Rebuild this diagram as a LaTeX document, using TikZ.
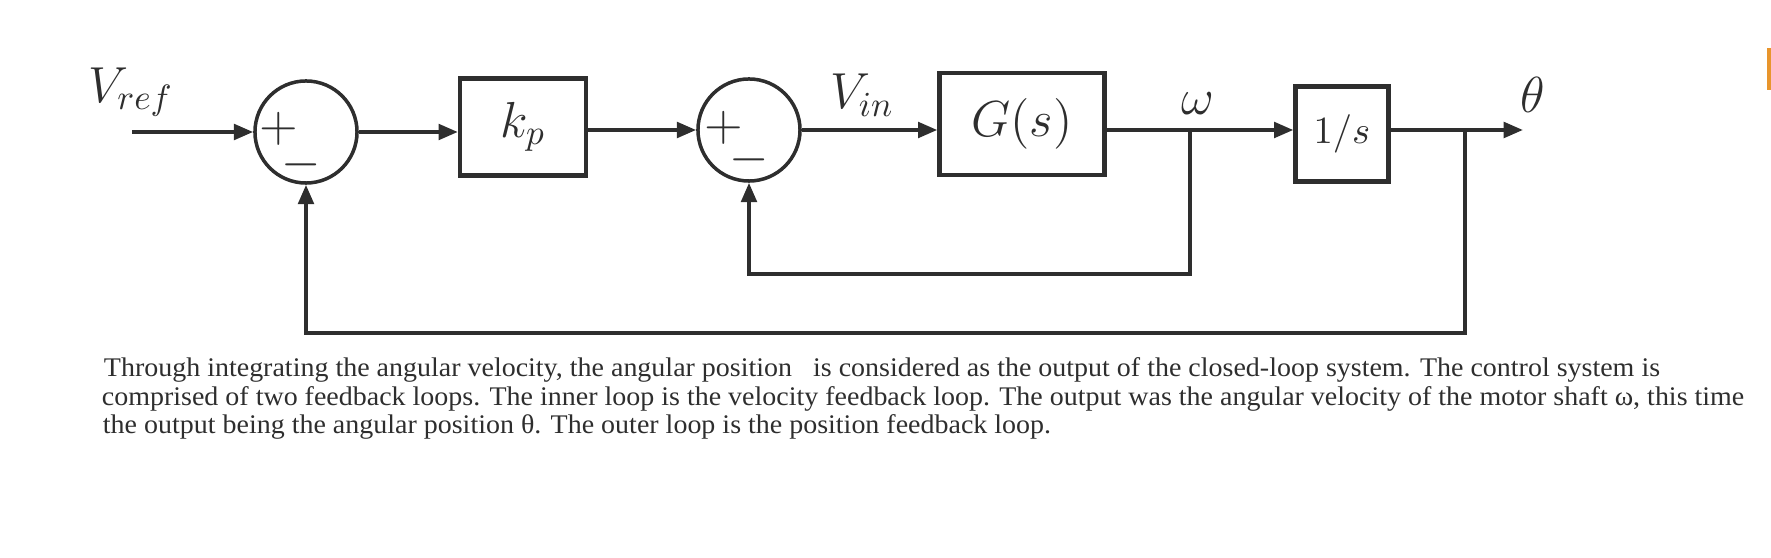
\documentclass[tikz,border=0pt]{standalone}
\usepackage{fontspec}
\newfontfamily\captfont[FakeStretch=1.04]{Liberation Serif}
\usepackage{tikz}
\usetikzlibrary{arrows.meta,calc}
\definecolor{ink}{HTML}{2E2E2E}
\definecolor{tabedge}{HTML}{E8952C}

\begin{document}
\begin{tikzpicture}[
  x=0.01cm, y=-0.01cm,
  line width=1.1pt, color=ink,
  arrow/.style={-{Triangle[length=5.5pt,width=4.4pt]}},
  block/.style={draw, line width=1.2pt, inner sep=0pt},
  sumnode/.style={circle, draw, line width=1pt, minimum size=1.02cm, inner sep=0pt},
  sgn/.style={font=\fontsize{15}{15}\selectfont, inner sep=0pt},
  sig/.style={font=\fontsize{14}{16}\selectfont, inner sep=0pt},
  caption/.style={font=\captfont\fontsize{7.65}{8.5}\selectfont, anchor=base west, inner sep=0pt},
]
  \useasboundingbox (0,0) rectangle (1771,558);

  \node[sig] (vref) at (131,92) {$V_{ref}$};
  \coordinate (in) at (132,132);
  \node[sumnode] (s1) at (306,132) {};
  \node[sgn] (s1p) at ($(s1)+(-27,-3)$) {$+$};
  \node[sgn] (s1m) at ($(s1)+(-5,33)$) {$-$};
  \node[block, minimum width=1.26cm, minimum height=0.97cm] (kp) at (523,127)
    {\fontsize{14}{16}\selectfont$k_p$};
  \node[sumnode] (s2) at (749,130) {};
  \node[sgn] (s2p) at ($(s2)+(-25,-2)$) {$+$};
  \node[sgn] (s2m) at ($(s2)+(0,30)$) {$-$};
  \node[sig] (vin) at (862,95) {$V_{in}$};
  \node[block, minimum width=1.65cm, minimum height=1.02cm] (G) at (1022,124)
    {\fontsize{14}{16}\selectfont$G(s)$};
  \coordinate (w) at (1190,130);
  \node[sig] (omega) at (1198,104) {$\omega$};
  \node[block, minimum width=0.93cm, minimum height=0.95cm] (integ) at (1342,134)
    {\fontsize{11}{13}\selectfont$1/s$};
  \coordinate (th) at (1465,130);
  \coordinate (out) at (1523,130);
  \node[sig] (theta) at (1533,95) {$\theta$};
  \coordinate (wb) at (1190,274);
  \coordinate (tb) at (1465,333);

  \draw[arrow] (in) -- (s1.west);
  \draw[arrow] (s1.east) -- (s1.east -| kp.west);
  \draw[arrow] (kp.east |- s2.west) -- (s2.west);
  \draw[arrow] (s2.east) -- (s2.east -| G.west);
  \draw (G.east |- w) -- (w);
  \draw[arrow] (w) -- (w -| integ.west);
  \draw (integ.east |- th) -- (th);
  \draw[arrow] (th) -- (out);
  \draw[arrow] (w) -- (wb) -| (s2.south);
  \draw[arrow] (th) -- (tb) -| (s1.south);

  \node[caption] (l1) at (102,377) {Through integrating the angular velocity, the angular position\ \ \ is considered as the output of the closed-loop system. The control system is};
  \node[caption] (l2) at (100,406) {comprised of two feedback loops. The inner loop is the velocity feedback loop. The output was the angular velocity of the motor shaft ω, this time};
  \node[caption] (l3) at (101,434) {the output being the angular position θ. The outer loop is the position feedback loop.};

  \draw[tabedge, line width=1pt] (1769,48) -- (1769,90);
\end{tikzpicture}
\end{document}
